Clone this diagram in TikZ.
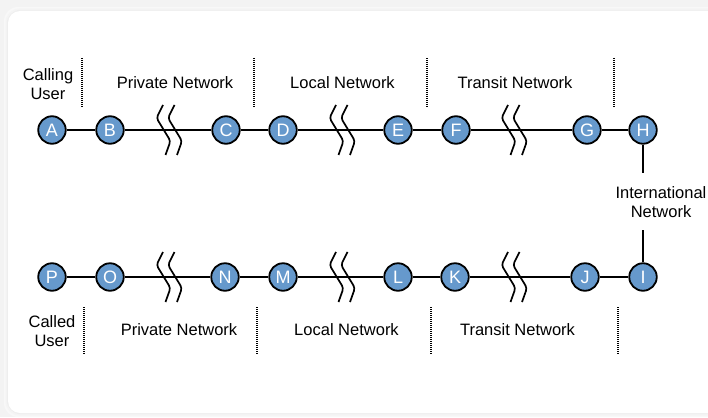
\documentclass[tikz,border=0pt]{standalone}
\usepackage{fontspec}
\setmainfont{Liberation Sans}
\definecolor{nodeblue}{RGB}{102,153,204}
\definecolor{bggray}{RGB}{243,243,243}
\begin{document}
\begin{tikzpicture}[x=1pt,y=-1pt,
  nd/.style={circle, draw=black, line width=1.8pt, fill=nodeblue, minimum size=27.5pt, inner sep=0pt, text=white, font=\fontsize{18}{18}\selectfont},
  lbl/.style={font=\fontsize{16.5}{19}\selectfont, align=center, inner sep=0pt},
  sepline/.style={line width=1.1pt, dash pattern=on 1pt off 1pt},
  conn/.style={line width=1.7pt},
  brk/.pic={
    \draw[line width=1.7pt, rounded corners=3pt] (-6,-25) -- (-12.5,-12) -- (1.5,11) -- (-3.5,25);
    \draw[line width=1.7pt, rounded corners=3pt] (5.5,-25) -- (-1,-12) -- (13,11) -- (8,25);
  }]
\useasboundingbox (0,0) rectangle (708,417);
% background and panel
\fill[bggray] (0,0) rectangle (708,417);
\foreach \s/\c in {4/248,2.5/244,1.2/238}{
  \fill[color={rgb,255:red,\c;green,\c;blue,\c}, rounded corners=14pt] (8-\s,11-\s) rectangle (730+\s,413+\s);
}
\fill[white, rounded corners=12pt] (8,11) rectangle (730,413);

% top row nodes
\node[nd] (A) at (52,130) {A};
\node[nd] (B) at (110,130) {B};
\node[nd] (C) at (226,130) {C};
\node[nd] (D) at (283,130) {D};
\node[nd] (E) at (398,130) {E};
\node[nd] (F) at (456,130) {F};
\node[nd] (G) at (587,130) {G};
\node[nd] (H) at (643,130) {H};
% bottom row nodes
\node[nd] (P) at (52,277) {P};
\node[nd] (O) at (110,277) {O};
\node[nd] (N) at (225,277) {N};
\node[nd] (M) at (283,277) {M};
\node[nd] (L) at (398,277) {L};
\node[nd] (K) at (455,277) {K};
\node[nd] (J) at (585,277) {J};
\node[nd] (I) at (643,277) {I};

% connectors
\draw[conn] (A) -- (B);
\draw[conn] (B) -- (C);
\draw[conn] (C) -- (D);
\draw[conn] (D) -- (E);
\draw[conn] (E) -- (F);
\draw[conn] (F) -- (G);
\draw[conn] (G) -- (H);
\draw[conn] (P) -- (O);
\draw[conn] (O) -- (N);
\draw[conn] (N) -- (M);
\draw[conn] (M) -- (L);
\draw[conn] (L) -- (K);
\draw[conn] (K) -- (J);
\draw[conn] (J) -- (I);
\coordinate (hEnd) at (643,173);
\coordinate (iEnd) at (643,230);
\draw[conn] (H) -- (hEnd);
\draw[conn] (I) -- (iEnd);

% break symbols
\pic at (169,130) {brk};
\pic at (342,130) {brk};
\pic at (514,130) {brk};
\pic at (169,277) {brk};
\pic at (342,277) {brk};
\pic at (514,277) {brk};

% top labels
\node[lbl] (lCalling) at (48,84) {Calling\\User};
\node[lbl] (lPriv1) at (175,83) {Private Network};
\node[lbl] (lLoc1) at (342.5,83) {Local Network};
\node[lbl] (lTrans1) at (515,83) {Transit Network};
% bottom labels
\node[lbl] (lCalled) at (52,331) {Called\\User};
\node[lbl] (lPriv2) at (179,330) {Private Network};
\node[lbl] (lLoc2) at (346.5,330) {Local Network};
\node[lbl] (lTrans2) at (517.5,330) {Transit Network};
% international
\node[lbl] (lIntl) at (661,202) {International\\Network};

% dotted separators
\foreach \x in {82,254,427,614}{ \draw[sepline] (\x,58) -- (\x,107); }
\foreach \x in {84,257,431,618}{ \draw[sepline] (\x,307) -- (\x,354); }
\end{tikzpicture}
\end{document}
